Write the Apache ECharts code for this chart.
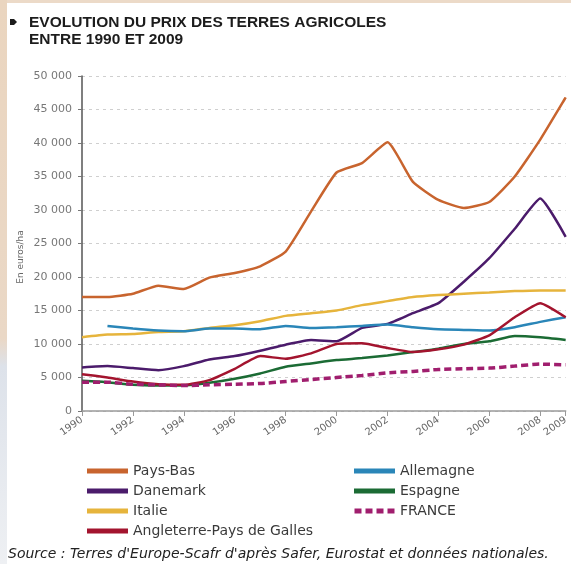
<!DOCTYPE html>
<html>
<head>
<meta charset="utf-8">
<title>Evolution du prix des terres agricoles</title>
<script src="https://cdn.jsdelivr.net/npm/echarts@6.0.0/dist/echarts.min.js"></script>
<style>
    html, body { margin: 0; padding: 0; background: #fff; }
    #main { width: 571px; height: 564px; }
</style>
</head>
<body>
<div id="main"></div>
<script>
// années
const years = ['1990','1991','1992','1993','1994','1995','1996','1997','1998','1999',
    '2000','2001','2002','2003','2004','2005','2006','2007','2008','2009'];

// prix en euros/ha
const paysBas    = [17000,17000,17500,18700,18200,19900,20600,21600,23800,29800,35600,37000,40100,34200,31500,30300,31200,35000,40500,46800];
const danemark   = [6500,6700,6400,6100,6700,7700,8200,9000,9900,10600,10400,12400,13000,14600,16100,19300,22800,27200,31700,26000];
const italie     = [11000,11400,11500,11800,11900,12400,12800,13400,14200,14600,15000,15800,16400,17000,17300,17500,17700,17900,18000,18000];
const allemagne  = [null,12700,12300,12000,11900,12300,12300,12200,12700,12400,12500,12700,12900,12500,12200,12100,12000,12500,13300,14000];
const angleterre = [5500,5000,4400,4000,3900,4600,6300,8200,7800,8600,10000,10100,9400,8800,9200,9900,11300,14000,16100,14000];
const espagne    = [4500,4300,3900,3800,3800,4200,4800,5600,6600,7100,7600,7900,8300,8800,9300,10000,10400,11200,11000,10600];
const france     = [4300,4300,4000,3900,3800,3900,4000,4100,4400,4700,5000,5300,5700,5900,6200,6300,6400,6700,7000,6900];

// ticks de l'axe des y
const yMin = 0, yMax = 50000, yStep = 5000;

const legendLeft = ['Pays-Bas', 'Danemark', 'Italie', 'Angleterre-Pays de Galles'];

// années paires + 2009
function showYear(index, value) {
    return index % 2 === 0 || value === '2009';
}

function fmtThousands(v) {
    return String(v).replace(/\B(?=(\d{3})+(?!\d))/g, ' ');
}

function lineSerie(name, data, color, width, type) {
    return {
        name: name,
        type: 'line',
        data: data,
        color: color,
        showSymbol: false,
        smooth: 0.15,
        lineStyle: { color: color, width: width || 2.5, type: type || 'solid' }
    };
}

const legendText = { fontFamily: 'DejaVu Sans', fontSize: 14, color: '#3a3a3a', lineHeight: 16 };

let myChart = echarts.init(document.getElementById('main'), null, { renderer: 'canvas' });

myChart.setOption({
    animation: false,
    backgroundColor: '#fff',
    title: {
        text: 'EVOLUTION DU PRIX DES TERRES AGRICOLES\nENTRE 1990 ET 2009',
        left: 24,
        top: 9,
        textStyle: {
            fontFamily: 'Liberation Sans',
            fontSize: 15.5,
            fontWeight: 'bold',
            color: '#1c1c1c',
            lineHeight: 17
        }
    },
    legend: [
        {
            data: legendLeft.map(n => ({ name: n, icon: 'rect' })),
            orient: 'vertical',
            left: 82,
            top: 458,
            itemWidth: 41,
            itemHeight: 5,
            itemGap: 4,
            textStyle: legendText
        },
        {
            data: [
                { name: 'Allemagne', icon: 'rect' },
                { name: 'Espagne', icon: 'rect' },
                { name: 'FRANCE', icon: 'path://M0,0h7v5h-7z M11,0h7v5h-7z M22,0h7v5h-7z M33,0h7v5h-7z' }
            ],
            orient: 'vertical',
            left: 349,
            top: 458,
            itemWidth: 41,
            itemHeight: 5,
            itemGap: 4,
            textStyle: legendText
        }
    ],
    grid: {
        left: 82,
        right: 5,
        top: 76,
        bottom: 153
    },
    xAxis: {
        type: 'category',
        data: years,
        boundaryGap: false,
        axisLine: { lineStyle: { color: '#9a9a9a', width: 1.5 } },
        axisTick: { interval: showYear, length: 5, lineStyle: { color: '#9a9a9a' } },
        axisLabel: {
            interval: showYear,
            rotate: 35,
            margin: 8,
            fontFamily: 'DejaVu Sans',
            fontSize: 10,
            color: '#666'
        },
        splitLine: { show: false }
    },
    yAxis: {
        type: 'value',
        min: yMin,
        max: yMax,
        interval: yStep,
        axisLine: { show: true, lineStyle: { color: '#555', width: 1.5 } },
        axisTick: { show: true, inside: false, length: 4, lineStyle: { color: '#777' } },
        axisLabel: {
            margin: 10,
            fontFamily: 'DejaVu Sans',
            fontSize: 11,
            color: '#777',
            formatter: fmtThousands
        },
        splitLine: { lineStyle: { color: '#cfcfcf', type: [3, 4], width: 1 } }
    },
    graphic: [
        // bords beiges de la photo
        { type: 'rect', left: 0, top: 0, shape: { width: 571, height: 3 }, style: { fill: '#ecdac8' }, silent: true },
        {
            type: 'rect', left: 0, top: 0, shape: { width: 7, height: 564 }, silent: true,
            style: {
                fill: new echarts.graphic.LinearGradient(0, 0, 0, 1, [
                    { offset: 0, color: '#ead5bf' },
                    { offset: 0.6, color: '#ead8c6' },
                    { offset: 0.65, color: '#dde2ea' },
                    { offset: 1, color: '#eef0f3' }
                ])
            }
        },
        // puce du titre (petite flèche)
        {
            type: 'polygon', silent: true,
            shape: { points: [[10, 19], [14, 19], [17, 22], [14, 25], [10, 25]] },
            style: { fill: '#1c1c1c' }
        },
        {
            type: 'text', x: 21, y: 257, rotation: Math.PI / 2, silent: true,
            style: {
                text: 'En euros/ha', fontFamily: 'DejaVu Sans', fontSize: 9,
                fill: '#666', align: 'center', verticalAlign: 'middle'
            }
        },
        {
            type: 'text', left: 8, top: 547, silent: true,
            style: {
                text: "Source : Terres d'Europe-Scafr d'après Safer, Eurostat et données nationales.",
                fontFamily: 'DejaVu Sans', fontSize: 14, fontStyle: 'italic', fill: '#222'
            }
        }
    ],
    series: [
        lineSerie('Pays-Bas', paysBas, '#c8642e'),
        lineSerie('Danemark', danemark, '#4b1b6b'),
        lineSerie('Italie', italie, '#e6b43c'),
        lineSerie('Allemagne', allemagne, '#2a86b8'),
        lineSerie('Espagne', espagne, '#1b6b34'),
        lineSerie('Angleterre-Pays de Galles', angleterre, '#a3142e'),
        lineSerie('FRANCE', france, '#a01e6e', 3.5, [7, 4])
    ]
});
</script>
</body>
</html>
